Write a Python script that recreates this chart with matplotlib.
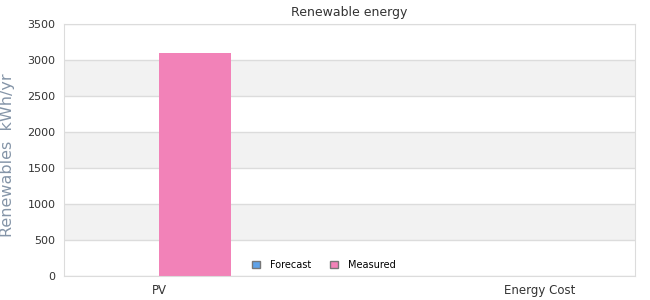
import matplotlib
matplotlib.use("Agg")
import matplotlib.pyplot as plt
import numpy as np
from matplotlib.patches import Patch

categories = ["PV", "", "Energy Cost"]
forecast = [0, 0, 0]
measured = [3100, 0, 0]
yticks = [0, 500, 1000, 1500, 2000, 2500, 3000, 3500]

plt.rcParams['font.family'] = ['DejaVu Sans']
fig = plt.figure(figsize=(6.5, 3.0), dpi=100)
ax = fig.add_axes([64/650, 24/300, (635-64)/650, (276-24)/300])

x = np.arange(len(categories))
w = 0.38
ax.set_xlim(-0.5, len(categories) - 0.5)
ax.set_ylim(0, 3500)

# alternating bands
for i in range(len(yticks) - 1):
    if i % 2 == 1:
        ax.axhspan(yticks[i], yticks[i + 1], color="#f2f2f2", zorder=0, lw=0)
for t in yticks:
    ax.axhline(t, color="#dcdcdc", lw=1, zorder=1)

ax.bar(x - w/2, forecast, w, color="#5fa2e8", label="Forecast", zorder=2)
ax.bar(x + w/2, measured, w, color="#f282b8", label="Measured", zorder=2)

ax.set_xticks(x)
ax.set_xticklabels(categories, fontsize=8.5, color="#333333")
ax.set_yticks(yticks)
ax.set_yticklabels([str(t) for t in yticks], fontsize=8, color="#333333")
ax.tick_params(length=0, pad=6)
for s in ax.spines.values():
    s.set_color("#dcdcdc")
fig.text(8/650, 1 - 155/300, "Renewables  kWh/yr", rotation=90, fontsize=11.5,
         color="#8595a8", ha="center", va="center")
ax.set_title("Renewable energy", fontsize=9, color="#333333", pad=6)

handles = [Patch(facecolor="#5fa2e8", edgecolor="#777777", label="Forecast"),
           Patch(facecolor="#f282b8", edgecolor="#777777", label="Measured")]
ax.legend(handles=handles, loc="lower center", bbox_to_anchor=(0.455, -0.01), ncol=2,
          frameon=False, fontsize=7, handlelength=0.8, handleheight=0.8,
          columnspacing=2.0, handletextpad=1.0)

fig.savefig("out.png", dpi=100)
